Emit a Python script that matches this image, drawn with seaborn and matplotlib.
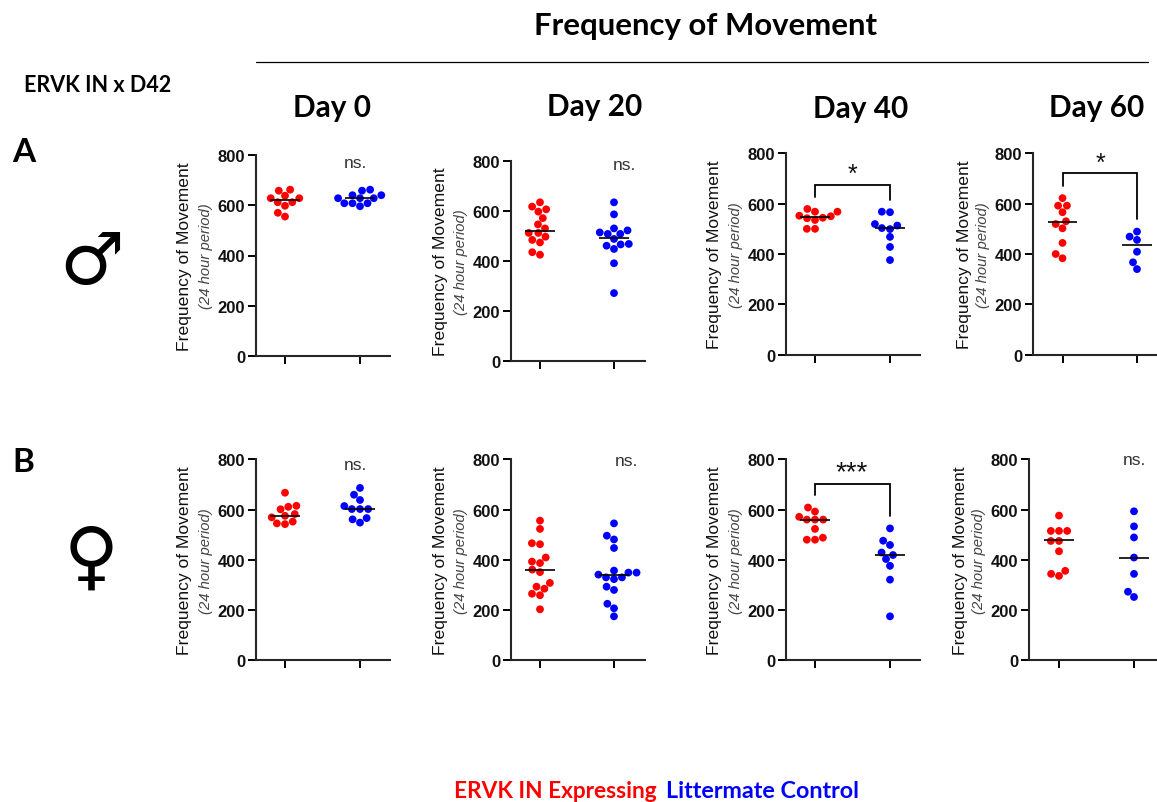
import pandas as pd
import numpy as np
import matplotlib
matplotlib.use('Agg')
import matplotlib.pyplot as plt
import seaborn as sns

W, H = 1157, 803

# valores: vermelho = ERVK IN, azul = controle
m_d0_red = [662, 658, 638, 628, 628, 612, 612, 598, 570, 555]
m_d0_blue = [662, 658, 640, 640, 628, 628, 628, 608, 608, 608, 596]
m_d20_red = [634, 617, 606, 597, 571, 546, 530, 512, 512, 497, 484, 474, 435, 425]
m_d20_blue = [634, 586, 530, 522, 514, 508, 508, 488, 468, 466, 461, 448, 391, 272]
m_d40_red = [579, 568, 568, 552, 550, 544, 542, 535, 500, 500]
m_d40_blue = [568, 566, 519, 513, 503, 499, 468, 428, 376]
m_d60_red = [622, 592, 592, 566, 530, 519, 502, 444, 400, 383]
m_d60_blue = [489, 469, 456, 409, 367, 340]
f_d0_red = [667, 615, 611, 601, 582, 575, 569, 552, 545, 542]
f_d0_blue = [686, 659, 638, 614, 602, 602, 602, 566, 561, 548]
f_d20_red = [556, 523, 466, 462, 409, 393, 387, 361, 351, 308, 293, 285, 265, 259, 203]
f_d20_blue = [545, 496, 481, 447, 357, 349, 349, 341, 330, 330, 323, 293, 280, 225, 207, 175]
f_d40_red = [608, 592, 571, 560, 560, 560, 523, 488, 480, 480]
f_d40_blue = [525, 476, 459, 429, 419, 403, 376, 321, 175]
f_d60_red = [576, 515, 515, 515, 475, 475, 434, 356, 344, 336]
f_d60_blue = [593, 533, 489, 409, 344, 273, 252]

# linhas horizontais (media) de cada grupo
m_lines = [(620, 630), (520, 492), (548, 505), (526, 435)]
f_lines = [(575, 602), (360, 340), (558, 418), (477, 408)]

groups = ['ERVK IN Expressing', 'Littermate Control']
cores = {'ERVK IN Expressing': '#ff0000', 'Littermate Control': '#0000ff'}
yticks = [0, 200, 400, 600, 800]
ylabel1 = 'Frequency of Movement'
ylabel2 = '(24 hour period)'

sns.set_style('ticks')
plt.rcParams['font.family'] = ['Liberation Sans', 'DejaVu Sans']

fig = plt.figure(figsize=(W / 100, H / 100), dpi=100)


def texto(x, y, s, **kw):
    # posicao em pixels da imagem
    kw.setdefault('ha', 'center')
    kw.setdefault('va', 'center')
    return fig.text(x / W, 1 - y / H, s, **kw)


def painel(left, right, top, bottom, tick0, tick1, red, blue, linhas, dx=0):
    ax = fig.add_axes([left / W, 1 - bottom / H, (right - left) / W, (bottom - top) / H])
    base = pd.DataFrame({
        'grupo': [groups[0]] * len(red) + [groups[1]] * len(blue),
        'valor': red + blue,
    })
    sns.swarmplot(data=base, x='grupo', y='valor', hue='grupo', order=groups, palette=cores,
                  size=5.6, legend=False, ax=ax, zorder=2, warn_thresh=1)
    passo = tick1 - tick0
    ax.hlines(linhas, [-0.2, 0.8], [0.2, 1.2], color='black', lw=1.2, zorder=3)
    ax.set_xlim((left - tick0) / passo, (right - tick0) / passo)
    ax.set_ylim(0, 800)
    ax.set_yticks(yticks)
    ax.set_xticks([0, 1])
    ax.set_xticklabels([])
    ax.set_xlabel('')
    ax.set_ylabel('')
    ax.tick_params(axis='both', length=5.8, width=1.4, color='black', pad=2)
    for lab in ax.get_yticklabels():
        lab.set_fontweight('bold')
        lab.set_fontsize(12)
        lab.set_color('#111111')
    sns.despine(ax=ax)
    ax.spines['left'].set_linewidth(1.5)
    ax.spines['bottom'].set_linewidth(1.5)
    texto(left - 71 + dx, (top + bottom) / 2, ylabel1, rotation=90, fontsize=12.6, color='#111111')
    texto(left - 50, (top + bottom) / 2, ylabel2, rotation=90, fontsize=10.7, style='italic', color='#444444')
    return ax


def colchete(ax, topo, esq, dir):
    ax.plot([0, 0, 1, 1], [esq, topo, topo, dir], color='black', lw=1.3, clip_on=False,
            solid_joinstyle='miter')


a1 = painel(256, 390, 156, 357, 285, 360, m_d0_red, m_d0_blue, m_lines[0])
a2 = painel(511, 645, 161.7, 362.3, 540, 614, m_d20_red, m_d20_blue, m_lines[1])
a3 = painel(786, 920, 154.3, 355.7, 815, 890, m_d40_red, m_d40_blue, m_lines[2])
a4 = painel(1033, 1157, 154.3, 355.7, 1062.5, 1137, m_d60_red, m_d60_blue, m_lines[3], dx=3)
b1 = painel(256, 390, 460.3, 661.3, 285, 360, f_d0_red, f_d0_blue, f_lines[0])
b2 = painel(511, 645, 460.3, 661.3, 540, 614, f_d20_red, f_d20_blue, f_lines[1])
b3 = painel(786, 920, 460.3, 661.3, 815, 890, f_d40_red, f_d40_blue, f_lines[2])
b4 = painel(1029, 1157, 460.3, 661.3, 1059, 1134, f_d60_red, f_d60_blue, f_lines[3], dx=3)

colchete(a3, 674, 625, 616)
colchete(a4, 722, 671, 539)
colchete(b3, 703, 657, 573)

for x, y in [(355, 164), (624, 166), (355, 466), (626, 462), (1134, 461)]:
    texto(x, y, 'ns.', fontsize=12.5, color='#333333')
texto(852, 175, '*', fontsize=18, color='#111111')
texto(1100, 164, '*', fontsize=18, color='#111111')
texto(852, 473, '***', fontsize=20, color='#111111')

# textos gerais da figura
texto(705, 26, 'Frequency of Movement', fontsize=22.4, fontweight='bold', family='Lato', color='black')
fig.add_artist(plt.Line2D([256 / W, 1148 / W], [1 - 62.5 / H, 1 - 62.5 / H], color='black', lw=0.9))
texto(24, 85, 'ERVK IN x D42', ha='left', fontsize=15.5, fontweight='bold', family='Lato', color='black')
for x, y, s in [(332, 108, 'Day 0'), (595, 107, 'Day 20'), (861, 109, 'Day 40'), (1097, 108, 'Day 60')]:
    texto(x, y, s, fontsize=21.4, fontweight='bold', family='Lato', color='black')
texto(24, 153, 'A', fontsize=24, fontweight='bold', family='Lato', color='black')
texto(23, 463, 'B', fontsize=24, fontweight='bold', family='Lato', color='black')
texto(92, 264, '\u2642', fontsize=52, family='DejaVu Sans', color='black')
texto(91, 560, '\u2640', fontsize=54, family='DejaVu Sans', color='black')
texto(657, 792, groups[0], ha='right', fontsize=16.3, fontweight='bold', family='Lato', color='#ff0000')
texto(666, 792, groups[1], ha='left', fontsize=16.8, fontweight='bold', family='Lato', color='#0000ff')

fig.savefig('out.png', dpi=100, facecolor='white')
